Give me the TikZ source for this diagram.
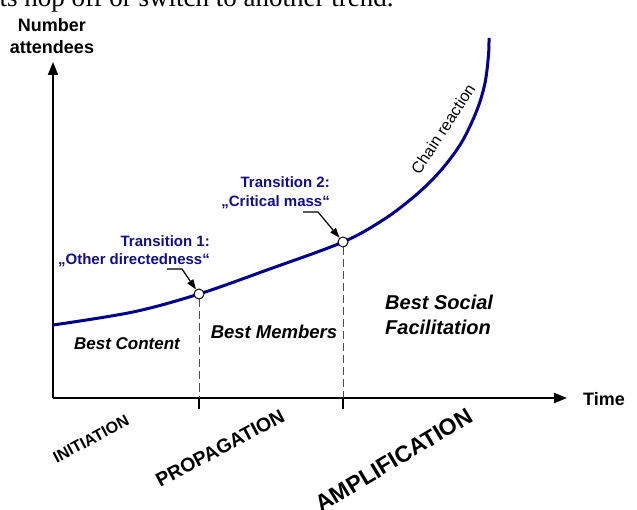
\documentclass[tikz,border=0pt]{standalone}
\usepackage{fontspec}
\setmainfont{Liberation Sans}
\newfontfamily\myserif{Liberation Serif}
\usetikzlibrary{arrows.meta}
\definecolor{curveblue}{RGB}{0,0,140}
\definecolor{labelblue}{RGB}{15,15,140}
\newcommand\setfs[1]{\fontsize{#1}{#1}\selectfont}
\begin{document}
\begin{tikzpicture}[x=1pt,y=-1pt,
  axisline/.style={line width=1.8pt,-{Triangle[length=13pt,width=10pt]}},
  curveline/.style={line width=3pt,curveblue},
  dotnode/.style={circle,draw=black,fill=white,line width=1pt,inner sep=0pt,minimum size=10pt},
  guide/.style={line width=1pt,black!70,dash pattern=on 8pt off 4pt},
  tickline/.style={line width=1.8pt},
  transarrow/.style={line width=1.2pt,-{Triangle[length=10pt,width=7pt]}},
  trans/.style={text=labelblue,font=\bfseries\setfs{15},align=right,inner sep=0pt},
  axislabel/.style={font=\bfseries\setfs{18},inner sep=0pt},
  phase/.style={font=\bfseries\itshape,inner sep=0pt},
  stage/.style={font=\bfseries,inner sep=0pt}]
\useasboundingbox (0,0) rectangle (637,510);
% page fragment at top
\node[anchor=base west,inner sep=0pt,font=\myserif\setfs{27}] (frag) at (-14,7) {nts hop off or switch to another trend.};
% axes
\coordinate (O) at (53,398);
\coordinate (ytip) at (53,62);
\coordinate (xtip) at (567,398);
\draw[axisline] (O) -- (ytip);
\draw[axisline] (O) -- (xtip);
\node[axislabel,align=center] (ylab) at (52,36) {Number\\[4pt]attendees};
\node[axislabel,anchor=west] (xlab) at (583,399) {Time};
% curve
\draw[curveline] plot[smooth,tension=0.55] coordinates {(53,325) (133,312) (199,294) (267,270) (343,242) (383,220) (410,200) (430,182) (447,163) (463,140) (477,110) (485,83) (488.5,55) (489,38)};
% transition points
\node[dotnode] (c1) at (199,294) {};
\node[dotnode] (c2) at (343,242) {};
\coordinate (t1) at (199,398);
\coordinate (t1b) at (199,409);
\coordinate (t2) at (343,398);
\coordinate (t2b) at (343,409);
\draw[guide] (c1.south) -- (t1);
\draw[guide] (c2.south) -- (t2);
\draw[tickline] (t1) -- (t1b);
\draw[tickline] (t2) -- (t2b);
% transition labels
\node[trans,anchor=east] (tr1) at (210,251) {Transition 1:\\[3pt]„Other directedness“};
\node[trans,anchor=east] (tr2) at (330,193) {Transition 2:\\[4pt]„Critical mass“};
\coordinate (a1) at (167,269);
\coordinate (a2) at (303,212);
\draw[transarrow] (a1) -- ++(15,0) -- (c1);
\draw[transarrow] (a2) -- ++(15,0) -- (c2);
% phase labels
\node[phase,font=\bfseries\itshape\setfs{17}] (bc) at (127,344) {Best Content};
\node[phase,font=\bfseries\itshape\setfs{18.5}] (bm) at (274,332) {Best Members};
\node[phase,font=\bfseries\itshape\setfs{20},align=left,anchor=west] (bs) at (385,315) {Best Social\\[5pt]Facilitation};
\node[inner sep=0pt,font=\setfs{16},rotate=57] (chain) at (443,129) {Chain reaction};
% stage labels
\node[stage,font=\bfseries\setfs{16},rotate=28] (s1) at (91,439) {INITIATION};
\node[stage,font=\bfseries\setfs{19.5},rotate=28] (s2) at (220,448) {PROPAGATION};
\node[stage,font=\bfseries\setfs{23},rotate=31] (s3) at (394,460) {AMPLIFICATION};
\end{tikzpicture}
\end{document}
